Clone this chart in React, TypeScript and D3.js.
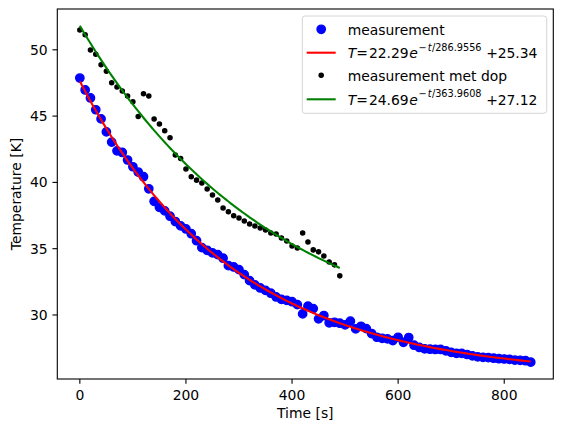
import React from "react";
import * as d3 from "d3";

// measurement every 10 s, 0..850 s
const timeBlue = d3.range(0, 851, 10);
const tempBlue = [
  47.87, 46.97, 46.37, 45.48, 44.79, 43.81, 43.04, 42.38, 42.26, 41.69,
  41.18, 40.78, 40.43, 39.52, 38.57, 38.12, 37.85, 37.45, 37.05, 36.72,
  36.49, 36.13, 35.6, 35.08, 34.88, 34.68, 34.55, 34.28, 33.72, 33.62,
  33.42, 33.04, 32.59, 32.27, 32.04, 31.86, 31.64, 31.36, 31.18, 31.1,
  31.0, 30.78, 30.08, 30.66, 30.48, 29.71, 29.96, 29.41, 29.45, 29.38,
  29.25, 29.53, 28.95, 29.15, 28.97, 28.6, 28.32, 28.24, 28.2, 28.07,
  28.32, 27.94, 28.3, 27.72, 27.55, 27.45, 27.42, 27.4, 27.4, 27.3,
  27.18, 27.1, 27.1, 27.02, 26.92, 26.84, 26.8, 26.78, 26.74, 26.7,
  26.68, 26.65, 26.6, 26.58, 26.55, 26.44,
];

// measurement met dop, every 10 s, 0..490 s
const timeBlack = d3.range(0, 491, 10);
const tempBlack = [
  51.5, 51.13, 49.98, 49.67, 48.87, 48.39, 47.51, 47.19, 46.89, 46.51,
  46.08, 44.97, 46.68, 46.51, 44.78, 44.4, 43.9, 43.37, 42.06, 41.81,
  41.01, 40.42, 40.17, 39.95, 39.5, 39.05, 38.67, 38.07, 37.79, 37.49,
  37.31, 37.09, 36.86, 36.71, 36.56, 36.41, 36.19, 36.11, 35.81, 35.58,
  35.2, 35.05, 36.19, 35.51, 34.91, 34.76, 34.45, 34.0, 33.78, 32.95,
];

// fit parameters shown in the legend
const fitRed = { a: 22.29, tau: 286.9556, c: 25.34, tEnd: 850 };
const fitGreen = { a: 24.69, tau: 363.9608, c: 27.12, tEnd: 490 };

const xTicks = [0, 200, 400, 600, 800];
const yTicks = [30, 35, 40, 45, 50];

const W = 562;
const H = 432;
const margin = { left: 57.3, top: 9, right: 8.7, bottom: 53 };
const FONT = "DejaVu Sans";
const FS = 13.9;

const fitCurve = (f: typeof fitRed) =>
  d3.range(0, f.tEnd + 0.001, 5).map((t) => [t, f.a * Math.exp(-t / f.tau) + f.c] as [number, number]);

export default function App() {
  const x0 = margin.left;
  const x1 = W - margin.right;
  const y0 = H - margin.bottom;
  const y1 = margin.top;

  const redPts = fitCurve(fitRed);
  const greenPts = fitCurve(fitGreen);

  const xMin = 0, xMax = 850;
  const xPad = (xMax - xMin) * 0.05;
  const allY = [...tempBlue, ...tempBlack, ...redPts.map((d) => d[1]), ...greenPts.map((d) => d[1])];
  const yMin = d3.min(allY) as number;
  const yMax = d3.max(allY) as number;
  const yPad = (yMax - yMin) * 0.05;

  const x = d3.scaleLinear().domain([xMin - xPad, xMax + xPad]).range([x0, x1]);
  const y = d3.scaleLinear().domain([yMin - yPad, yMax + yPad]).range([y0, y1]);

  const line = d3
    .line<[number, number]>()
    .x((d) => x(d[0]))
    .y((d) => y(d[1]));

  // legend geometry
  const lg = { x: 302.3, y: 16, w: 244.4, h: 97.3 };
  const rows = [29.3, 52.7, 75.3, 99.3];
  const hx0 = 306.7, hx1 = 335.7, hxc = 321.2, tx = 347.7;
  const sup = FS * 0.7;

  // mathtext-like label, pieces placed at measured offsets from tx
  const fitLabel = (f: typeof fitRed, yy: number) => (
    <text y={yy + 5.6} fontSize={FS} style={{ whiteSpace: "pre" }}>
      <tspan x={tx} fontStyle="italic">T</tspan>
      <tspan x={tx + 8.6}>=</tspan>
      <tspan x={tx + 21.2}>{f.a.toFixed(2)}</tspan>
      <tspan x={tx + 61.6} fontStyle="italic">e</tspan>
      <tspan x={tx + 70.8} fontSize={sup} dy={-7.5}>{"\u2212"}</tspan>
      <tspan x={tx + 80.1} fontSize={sup} fontStyle="italic">t</tspan>
      <tspan x={tx + 84.2} fontSize={sup}>{`/${f.tau.toFixed(4)}`}</tspan>
      <tspan x={tx + 138.5} dy={7.5}>+</tspan>
      <tspan x={tx + 150}>{f.c.toFixed(2)}</tspan>
    </text>
  );

  return (
    <svg
      width={W}
      height={H}
      style={{ position: "absolute", left: 0, top: 0, background: "#fff" }}
      fontFamily={FONT}
    >
      <rect x={0} y={0} width={W} height={H} fill="#fff" />

      {/* data */}
      <g fill="#0000ff" stroke="#0000ff" strokeWidth={1.39}>
        {timeBlue.map((t, i) => (
          <circle key={t} cx={x(t)} cy={y(tempBlue[i])} r={4.17} />
        ))}
      </g>
      <path d={line(redPts) ?? ""} fill="none" stroke="#ff0000" strokeWidth={2.08} />
      <g fill="#000" stroke="#000" strokeWidth={1.39}>
        {timeBlack.map((t, i) => (
          <circle key={t} cx={x(t)} cy={y(tempBlack[i])} r={2.08} />
        ))}
      </g>
      <path d={line(greenPts) ?? ""} fill="none" stroke="#008000" strokeWidth={2.08} />

      {/* axes frame */}
      <rect x={x0} y={y1} width={x1 - x0} height={y0 - y1} fill="none" stroke="#000" strokeWidth={1.1} />

      {/* x ticks */}
      {xTicks.map((t) => (
        <g key={t}>
          <line x1={x(t)} x2={x(t)} y1={y0} y2={y0 + 4.86} stroke="#000" strokeWidth={1.1} />
          <text x={x(t)} y={y0 + 21} fontSize={FS} textAnchor="middle">
            {t}
          </text>
        </g>
      ))}
      <text x={(x0 + x1) / 2} y={418} fontSize={FS} textAnchor="middle">
        Time [s]
      </text>

      {/* y ticks */}
      {yTicks.map((t) => (
        <g key={t}>
          <line x1={x0 - 4.86} x2={x0} y1={y(t)} y2={y(t)} stroke="#000" strokeWidth={1.1} />
          <text x={x0 - 9.7} y={y(t) + 5} fontSize={FS} textAnchor="end">
            {t}
          </text>
        </g>
      ))}
      <text
        transform={`translate(20.5,${(y0 + y1) / 2}) rotate(-90)`}
        fontSize={FS}
        textAnchor="middle"
      >
        Temperature [K]
      </text>

      {/* legend */}
      <rect
        x={lg.x}
        y={lg.y}
        width={lg.w}
        height={lg.h}
        rx={2.8}
        fill="#fff"
        fillOpacity={0.8}
        stroke="#d5d5d5"
        strokeWidth={1}
      />
      <circle cx={hxc} cy={rows[0]} r={4.17} fill="#0000ff" stroke="#0000ff" strokeWidth={1.39} />
      <text x={tx} y={rows[0] + 5.3} fontSize={FS}>measurement</text>

      <line x1={hx0} x2={hx1} y1={rows[1]} y2={rows[1]} stroke="#ff0000" strokeWidth={2.08} />
      {fitLabel(fitRed, rows[1])}

      <circle cx={hxc} cy={rows[2]} r={2.08} fill="#000" stroke="#000" strokeWidth={1.39} />
      <text x={tx} y={rows[2] + 5.3} fontSize={FS}>measurement met dop</text>

      <line x1={hx0} x2={hx1} y1={rows[3]} y2={rows[3]} stroke="#008000" strokeWidth={2.08} />
      {fitLabel(fitGreen, rows[3])}
    </svg>
  );
}
